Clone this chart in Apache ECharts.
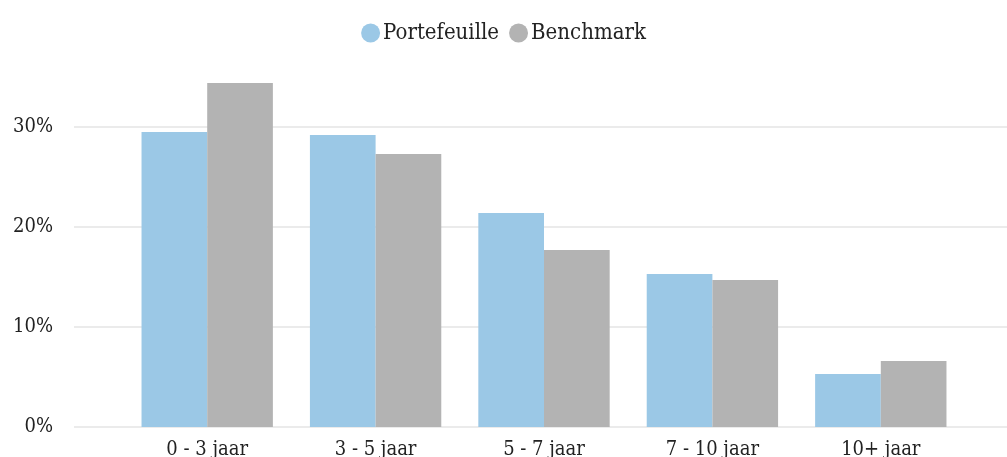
<!DOCTYPE html>
<html>
<head>
<meta charset="utf-8">
<style>
  html, body { margin: 0; padding: 0; background: #fff; }
  #chart { width: 1007px; height: 457px; }
</style>
<script src="https://cdn.jsdelivr.net/npm/echarts@6/dist/echarts.min.js"></script>
</head>
<body>
<div id="chart"></div>
<script>
// looptijdverdeling
const categories = ['0 - 3 jaar', '3 - 5 jaar', '5 - 7 jaar', '7 - 10 jaar', '10+ jaar']
const portefeuille = [29.5, 29.2, 21.4, 15.3, 5.3]
const benchmark = [34.4, 27.3, 17.7, 14.7, 6.6]
const yTicks = [0, 10, 20, 30]

const font = '"DejaVu Serif Condensed", "DejaVu Serif", serif'
const chart = echarts.init(document.getElementById('chart'))

chart.setOption({
  backgroundColor: '#fff',
  animation: false,
  textStyle: { fontFamily: font, color: '#222' },
  legend: {
    top: 17,
    left: 'center',
    icon: 'circle',
    itemWidth: 19,
    itemHeight: 19,
    itemGap: 10,
    textStyle: { fontFamily: font, fontSize: 22, color: '#222', padding: [0, 0, 0, -2] },
    data: ['Portefeuille', 'Benchmark']
  },
  grid: [
    // grid with the gridlines + y labels
    { left: 74, right: 0, top: 127, bottom: 30, outerBoundsMode: 'none', containLabel: false },
    // grid with the bars
    { left: 123, right: 42, top: 27, bottom: 30, outerBoundsMode: 'none', containLabel: false }
  ],
  xAxis: [
    { gridIndex: 0, type: 'category', data: [''], show: false },
    {
      gridIndex: 1,
      type: 'category',
      data: categories,
      axisLine: { show: false },
      axisTick: { show: false },
      axisLabel: { margin: 13, fontSize: 20, color: '#222', fontFamily: font }
    }
  ],
  yAxis: [
    {
      gridIndex: 0,
      type: 'value',
      min: yTicks[0],
      max: yTicks[yTicks.length - 1],
      interval: 10,
      axisLine: { show: false },
      axisTick: { show: false },
      splitLine: { lineStyle: { color: '#ebebeb', width: 2 } },
      axisLabel: { margin: 21, fontSize: 20, color: '#222', fontFamily: font, formatter: '{value}%' }
    },
    { gridIndex: 1, type: 'value', min: 0, max: 40, show: false, splitLine: { show: false } }
  ],
  series: [
    {
      name: 'Portefeuille',
      type: 'bar',
      xAxisIndex: 1,
      yAxisIndex: 1,
      barGap: 0,
      barCategoryGap: '22%',
      itemStyle: { color: '#9bc8e6' },
      data: portefeuille
    },
    {
      name: 'Benchmark',
      type: 'bar',
      xAxisIndex: 1,
      yAxisIndex: 1,
      barGap: 0,
      barCategoryGap: '22%',
      itemStyle: { color: '#b3b3b3' },
      data: benchmark
    }
  ]
})
</script>
</body>
</html>
